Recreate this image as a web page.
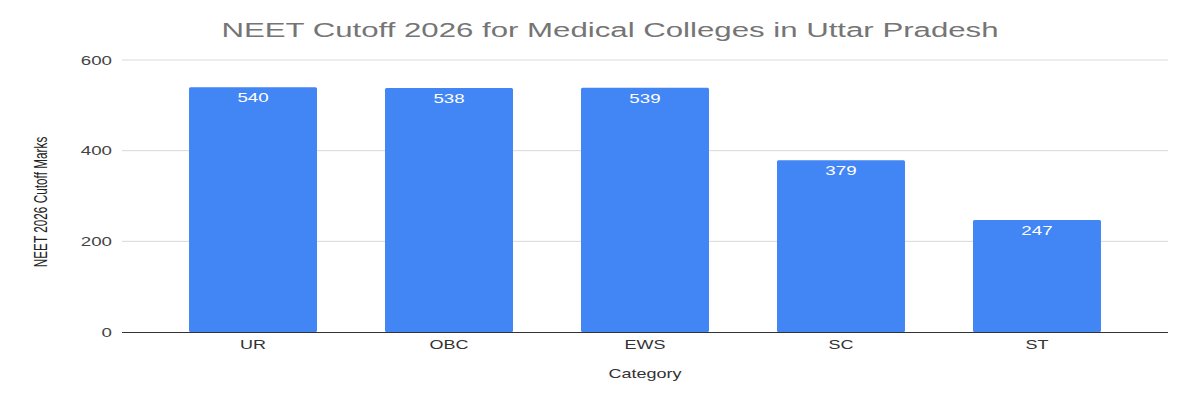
<!DOCTYPE html>
<html>
<head>
<meta charset="utf-8">
<script src="https://cdn.jsdelivr.net/npm/d3@7"></script>
<style>
  body { margin: 0; background: #fff; }
  text { font-family: Arial, "Liberation Sans", sans-serif; }
</style>
</head>
<body>
<div id="chart"></div>
<script>
const categories = ["UR", "OBC", "EWS", "SC", "ST"];
const cutoffs = [540, 538, 539, 379, 247];
const yTicks = [0, 200, 400, 600];

const w = 1200;
const h = 400;
const margin = { top: 60, right: 32, bottom: 68, left: 122 };
// the reference is stretched sideways, so text is too
const stretch = 1.5;

const svg = d3
  .select("#chart")
  .append("svg")
  .attr("width", w)
  .attr("height", h);

const xScale = d3
  .scaleBand()
  .domain(categories)
  .range([margin.left, w - margin.right])
  .paddingInner(0.347)
  .paddingOuter(0.342);

const yScale = d3
  .scaleLinear()
  .domain([0, 600])
  .range([h - margin.bottom, margin.top]);

const label = (x, y, txt, size, fill, anchor) =>
  svg
    .append("text")
    .attr("transform", `translate(${x},${y}) scale(${stretch},1)`)
    .attr("text-anchor", anchor || "middle")
    .attr("font-size", size)
    .attr("fill", fill)
    .text(txt);

// gridlines
svg
  .append("g")
  .selectAll("line")
  .data(yTicks.filter((d) => d > 0))
  .enter()
  .append("line")
  .attr("x1", margin.left)
  .attr("x2", w - margin.right)
  .attr("y1", (d) => yScale(d))
  .attr("y2", (d) => yScale(d))
  .attr("stroke", "#d9d9d9")
  .attr("stroke-width", 1);

// y tick labels
yTicks.forEach((t) => label(112, yScale(t) + 4.5, t, 12.5, "#444", "end"));

// bars
svg
  .selectAll("rect.bar")
  .data(cutoffs)
  .enter()
  .append("rect")
  .attr("class", "bar")
  .attr("x", (d, i) => xScale(categories[i]))
  .attr("y", (d) => yScale(d))
  .attr("width", xScale.bandwidth())
  .attr("height", (d) => yScale(0) - yScale(d))
  .attr("rx", 1.5)
  .attr("fill", "#4285f4");

// value labels
cutoffs.forEach((d, i) =>
  label(
    xScale(categories[i]) + xScale.bandwidth() / 2,
    yScale(d) + 15,
    d,
    12.5,
    "#fff"
  )
);

// baseline
svg
  .append("line")
  .attr("x1", margin.left)
  .attr("x2", w - margin.right)
  .attr("y1", yScale(0) + 0.5)
  .attr("y2", yScale(0) + 0.5)
  .attr("stroke", "#333")
  .attr("stroke-width", 1.2);

// x labels
categories.forEach((c) =>
  label(xScale(c) + xScale.bandwidth() / 2, yScale(0) + 16.5, c, 12, "#333")
);

// title
label(610, 37, "NEET Cutoff 2026 for Medical Colleges in Uttar Pradesh", 20.8, "#757575");

// axis titles
label(645, 378, "Category", 12, "#333");

svg
  .append("text")
  .attr("transform", `translate(47,202) rotate(-90) scale(1,${stretch})`)
  .attr("text-anchor", "middle")
  .attr("fill", "#222")
  .attr("font-size", 11.8)
  .text("NEET 2026 Cutoff Marks");
</script>
</body>
</html>
